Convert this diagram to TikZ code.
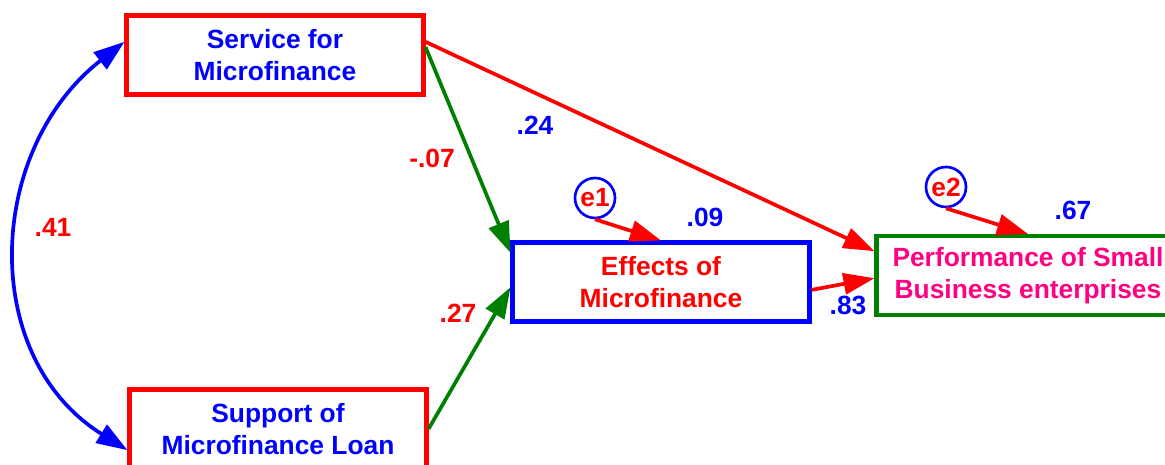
\documentclass[tikz,border=0pt]{standalone}
\usepackage{fontspec}
\setmainfont{Liberation Sans}
\usetikzlibrary{arrows.meta, positioning}
\definecolor{semred}{RGB}{255,0,0}
\definecolor{semblue}{RGB}{0,0,255}
\definecolor{semgreen}{RGB}{0,128,0}
\definecolor{sempink}{RGB}{255,0,128}

\begin{document}
\begin{tikzpicture}[>={Triangle[length=0.62cm,width=0.42cm]}, line width=2.1pt, align=center, font=\fontsize{15}{18}\selectfont\bfseries, var/.style={rectangle, draw, line width=2.3pt, minimum width=5.94cm, minimum height=1.58cm}, err/.style={circle, draw=semblue, line width=1.5pt, minimum size=0.8cm, inner sep=0pt, text=semred}, coef/.style={inner sep=1pt}]
  \useasboundingbox (0,0) rectangle (23.3,-9.3);

  \node[var, draw=semred, text=semblue]   (service) at (5.5,-1.1)    {Service for\\Microfinance};
  \node[var, draw=semred, text=semblue]   (support) at (5.56,-8.58)  {Support of\\Microfinance Loan};
  \node[var, draw=semblue, text=semred]   (effects) at (13.22,-5.64) {Effects of\\Microfinance};
  \node[var, draw=semgreen, text=sempink, minimum width=6.06cm] (perf) at (20.56,-5.51) {Performance of Small\\Business enterprises};
  \node[err] (e1) at (11.9,-3.96)  {e1};
  \node[err] (e2) at (18.92,-3.74) {e2};

  % coefficients
  \node[coef, text=semred]  (c41) at (1.06,-4.54)  {.41};
  \node[coef, text=semred]  (c07) at (8.64,-3.16)  {-.07};
  \node[coef, text=semblue] (c24) at (10.7,-2.5)   {.24};
  \node[coef, text=semred]  (c27) at (9.16,-6.26)  {.27};
  \node[coef, text=semblue] (c09) at (14.1,-4.34)  {.09};
  \node[coef, text=semblue] (c83) at (16.96,-6.1)  {.83};
  \node[coef, text=semblue] (c67) at (21.46,-4.2)  {.67};

  \path[->]
        (service.175) edge [<->, semblue, out=218, in=148, looseness=1.1] (support.188)
        (service.5)   edge [semred]   (perf.171)
        (service.3)   edge [semgreen] (effects.169)
        (support.east) edge [semgreen] (effects.182)
        (effects.-3)  edge [semred]   (perf.181)
        (e1.south)    edge [semred]   (effects.north)
        (e2.south)    edge [semred]   (perf.north)
        ;
\end{tikzpicture}
\end{document}
